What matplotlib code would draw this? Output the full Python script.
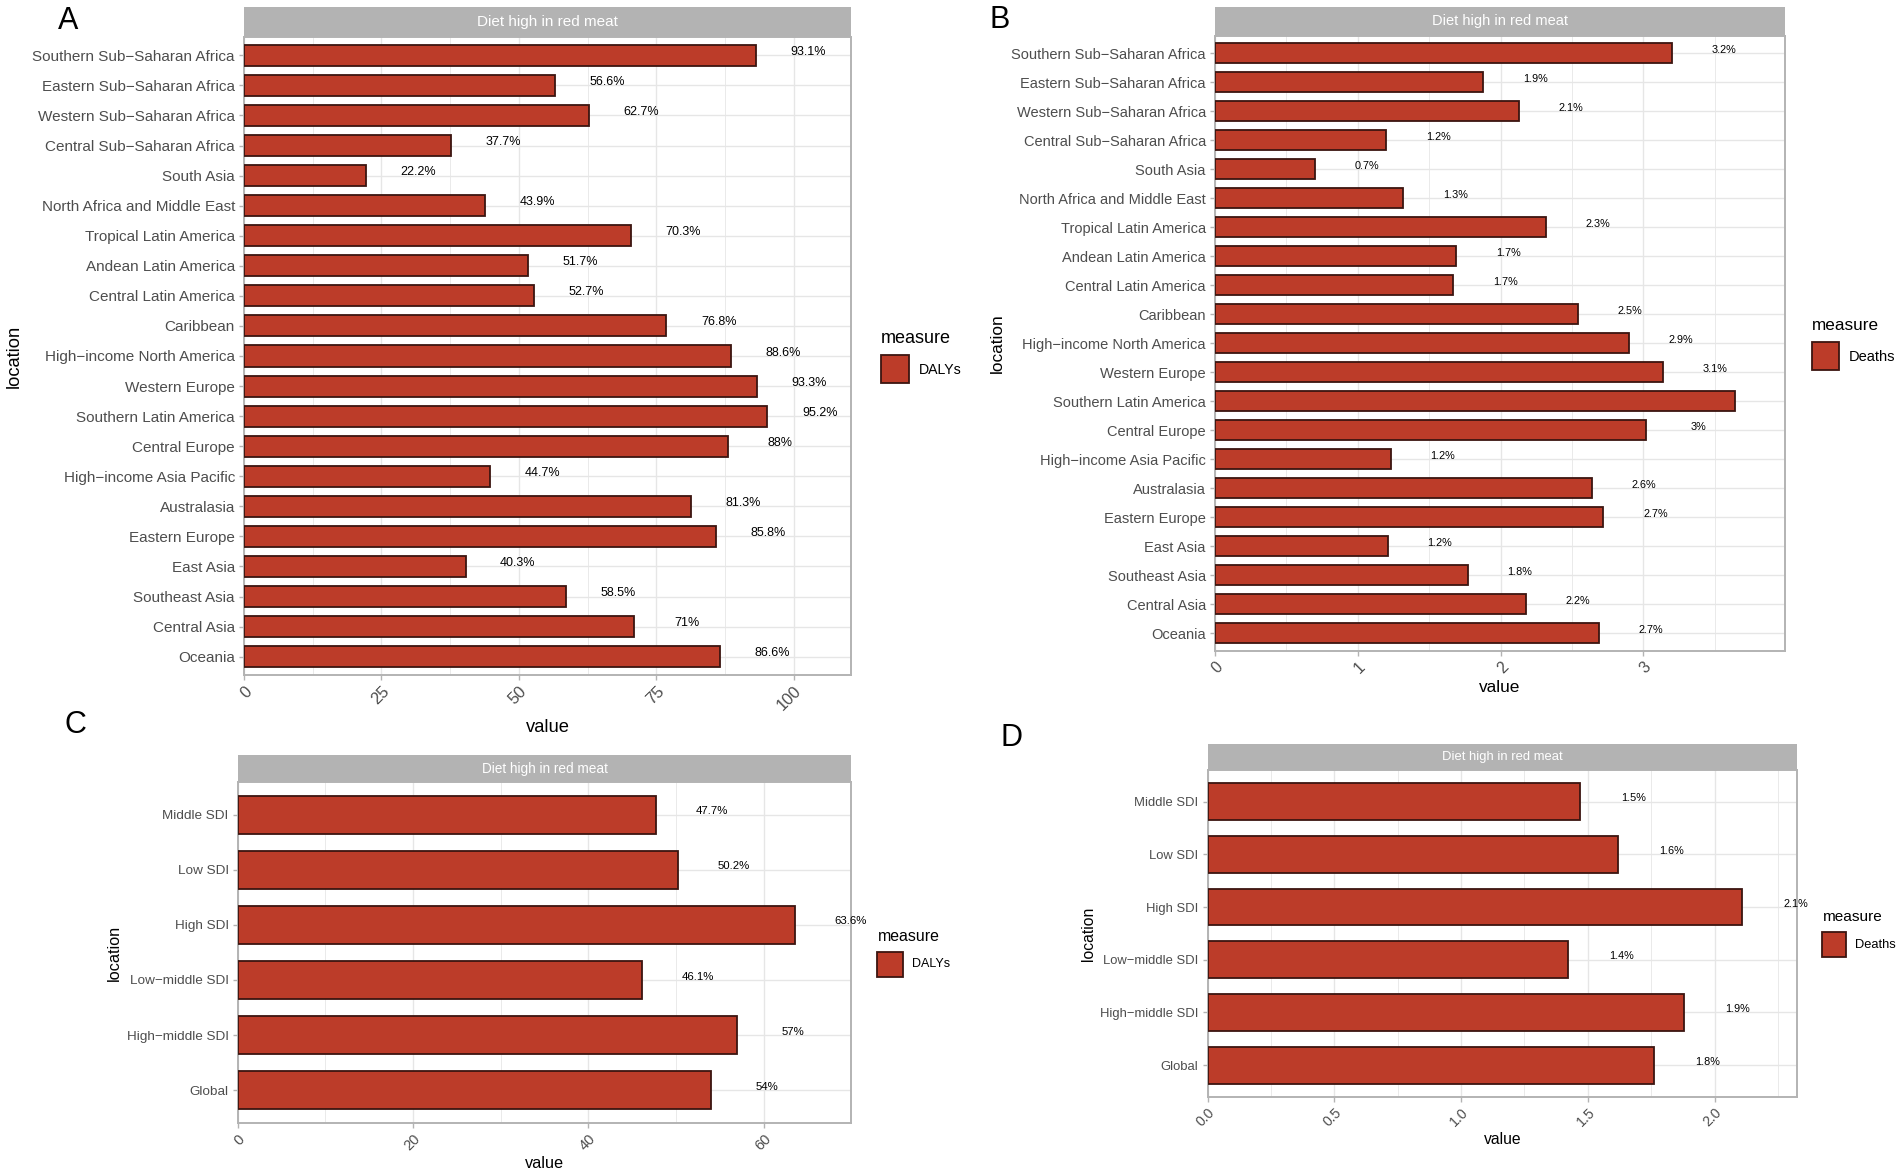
import numpy as np
import matplotlib
matplotlib.use('Agg')
import matplotlib.pyplot as plt
from matplotlib.patches import Rectangle
from matplotlib.ticker import MultipleLocator, FormatStrFormatter

plt.rcParams['font.family'] = ['Liberation Sans', 'DejaVu Sans']

#data
regions = ['Southern Sub\u2212Saharan Africa', 'Eastern Sub\u2212Saharan Africa', 'Western Sub\u2212Saharan Africa',
           'Central Sub\u2212Saharan Africa', 'South Asia', 'North Africa and Middle East', 'Tropical Latin America',
           'Andean Latin America', 'Central Latin America', 'Caribbean', 'High\u2212income North America',
           'Western Europe', 'Southern Latin America', 'Central Europe', 'High\u2212income Asia Pacific',
           'Australasia', 'Eastern Europe', 'East Asia', 'Southeast Asia', 'Central Asia', 'Oceania']
region_dalys = [93.1, 56.6, 62.7, 37.7, 22.2, 43.9, 70.3, 51.7, 52.7, 76.8, 88.6,
                93.3, 95.2, 88.0, 44.7, 81.3, 85.8, 40.3, 58.5, 71.0, 86.6]
region_deaths = [3.20, 1.88, 2.13, 1.20, 0.70, 1.32, 2.32, 1.69, 1.67, 2.54, 2.90,
                 3.14, 3.64, 3.02, 1.23, 2.64, 2.72, 1.21, 1.77, 2.18, 2.69]
sdi = ['Middle SDI', 'Low SDI', 'High SDI', 'Low\u2212middle SDI', 'High\u2212middle SDI', 'Global']
sdi_dalys = [47.7, 50.2, 63.6, 46.1, 57.0, 54.0]
sdi_deaths = [1.47, 1.62, 2.11, 1.42, 1.88, 1.76]
strip_title = 'Diet high in red meat'

W, H = 1902, 1176
RED = '#BC3C29'
EDGE = '#3b1510'
GREY70 = '#B3B3B3'
GRID = '#E6E6E6'

fig = plt.figure(figsize=(W/100, H/100), dpi=100)

def frac(l, t, r, b):
  return [l/W, 1-b/H, (r-l)/W, (b-t)/H]

#one ggplot-like facet panel with strip, labels and legend
def panel(letter, cats, vals, measure, box, strip_top, xmax, major, fmt, fs, letter_xy, xlab_y, ylab_x, leg):
  l, t, r, b = box
  st = fig.add_axes(frac(l, strip_top, r, t))
  st.set_facecolor(GREY70)
  st.set_xticks([]); st.set_yticks([])
  for s in st.spines.values(): s.set_visible(False)
  st.text(0.5, 0.5, strip_title, color='white', fontsize=fs['strip'], ha='center', va='center', transform=st.transAxes)

  ax = fig.add_axes(frac(l, t, r, b))
  n = len(cats)
  y = np.arange(n)
  ax.barh(y, vals, height=0.7, color=RED, edgecolor=EDGE, linewidth=1.3, zorder=3)
  off = 0.1*max(vals)
  for yi, v in zip(y, vals):
    ax.annotate(f'{round(v, 1):g}%', (v+off, yi), xytext=(0, 2.5), textcoords='offset points',
                ha='center', va='center', fontsize=fs['val'], color='black', zorder=4)
  ax.set_ylim(n-0.4, -0.6)
  ax.set_xlim(0, xmax)
  ax.set_yticks(y)
  ax.set_yticklabels(cats)
  ax.xaxis.set_major_locator(MultipleLocator(major))
  ax.xaxis.set_minor_locator(MultipleLocator(major/2))
  if fmt: ax.xaxis.set_major_formatter(FormatStrFormatter(fmt))
  ax.grid(True, which='major', color=GRID, linewidth=1.0)
  ax.grid(True, which='minor', axis='x', color=GRID, linewidth=0.6)
  ax.set_axisbelow(True)
  for s in ax.spines.values():
    s.set_color(GREY70); s.set_linewidth(1.4)
  ax.tick_params(axis='both', which='major', color=GREY70, length=3.5, width=1, labelcolor='#4D4D4D',
                 labelsize=fs['tick'], pad=3)
  ax.tick_params(axis='x', which='major', labelsize=fs['tick']+0.8)
  ax.tick_params(axis='x', which='minor', length=0)
  for lab in ax.get_xticklabels():
    lab.set_rotation(45); lab.set_ha('right'); lab.set_va('top'); lab.set_rotation_mode('anchor')

  fig.text(letter_xy[0]/W, 1-letter_xy[1]/H, letter, fontsize=22, ha='center', va='center')
  fig.text((l+r)/2/W, 1-xlab_y/H, 'value', fontsize=fs['axis'], ha='center', va='center')
  fig.text(ylab_x/W, 1-(t+b)/2/H, 'location', fontsize=fs['axis'], ha='center', va='center', rotation=90)

  #legend
  (tx, ty), (kl, kt, kr, kb), (lx, ly) = leg
  fig.text(tx/W, 1-ty/H, 'measure', fontsize=fs['leg_t'], ha='left', va='center')
  fig.patches.append(Rectangle((kl/W, 1-kb/H), (kr-kl)/W, (kb-kt)/H, facecolor=RED, edgecolor=EDGE,
                               linewidth=1.3, transform=fig.transFigure, figure=fig))
  fig.text(lx/W, 1-ly/H, measure, fontsize=fs['leg'], ha='left', va='center')
  return ax

panel('A', regions, region_dalys, 'DALYs', (244, 37.3, 851, 674.7), 7.3, 110.4, 25, None,
      dict(strip=11, val=9, tick=11, axis=13.2, leg_t=13, leg=10.2),
      (68.5, 21), 728, 14,
      ((880.5, 338.3), (880.5, 355, 909, 383), (919.3, 370)))
panel('B', regions, region_deaths, 'Deaths', (1214.8, 35.7, 1784.8, 650.7), 7.3, 3.99, 1, None,
      dict(strip=10.5, val=7.8, tick=10.5, axis=12.4, leg_t=12.3, leg=10.5),
      (999.5, 20), 688, 997,
      ((1811.7, 326), (1811.7, 341.7, 1839, 370), (1848.3, 356.7)))
panel('C', sdi, sdi_dalys, 'DALYs', (237.7, 781.8, 851.4, 1123.1), 755.4, 70, 20, None,
      dict(strip=9.8, val=8.2, tick=9.7, axis=11.7, leg_t=11.4, leg=9.0),
      (75.8, 725), 1164, 114,
      ((878.3, 936.7), (877.3, 951.7, 902.7, 977.3), (911.7, 964.3)))
panel('D', sdi, sdi_deaths, 'Deaths', (1207.5, 770, 1797, 1096.7), 744.4, 2.325, 0.5, '%.1f',
      dict(strip=9.4, val=7.8, tick=9.4, axis=11.3, leg_t=11.1, leg=9.3),
      (1011.6, 738), 1139, 1089,
      ((1822.7, 917.3), (1822, 932.3, 1846, 957), (1855, 945)))

fig.savefig('out.png', dpi=100, facecolor='white')
